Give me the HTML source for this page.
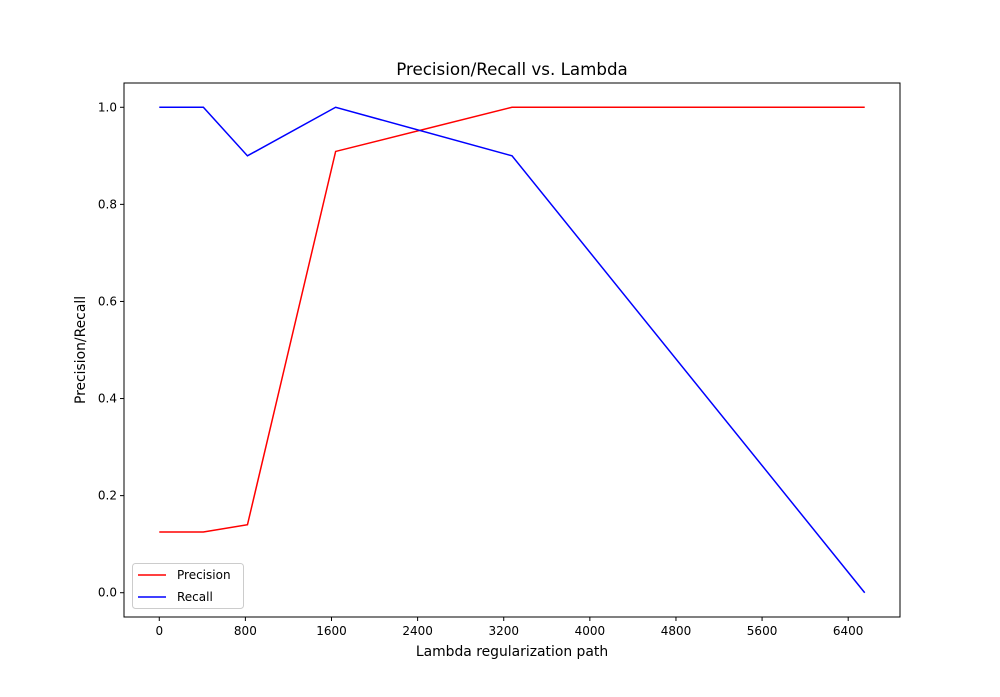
<!DOCTYPE html>
<html><head><meta charset="utf-8"><style>
body{margin:0;background:#fff;font-family:"Liberation Sans","DejaVu Sans",sans-serif}
svg text{font-family:"DejaVu Sans","Liberation Sans",sans-serif}
</style></head><body>
<svg id="chart" width="1000" height="692" xmlns="http://www.w3.org/2000/svg"></svg>
<script>
const xValues=[0,409.6,819.2,1638.4,3276.8,6553.6];
const precision=[0.125,0.125,0.14,0.909,1.0,1.0];
const recall=[1.0,1.0,0.9,1.0,0.9,0.0];
const xTicks=[0,800,1600,2400,3200,4000,4800,5600,6400];
const yTicks=[0.0,0.2,0.4,0.6,0.8,1.0];
const yTickLabels=["0.0","0.2","0.4","0.6","0.8","1.0"];

const L=124,R=900,T=83,B=617;
const xmin=-327.68,xmax=6881.28,ymin=-0.05,ymax=1.05;
const sx=v=>L+(v-xmin)/(xmax-xmin)*(R-L);
const sy=v=>B-(v-ymin)/(ymax-ymin)*(B-T);
const svg=document.getElementById('chart');
const NS='http://www.w3.org/2000/svg';
function mk(tag,attrs,parent){const e=document.createElementNS(NS,tag);for(const k in attrs)e.setAttribute(k,attrs[k]);(parent||svg).appendChild(e);return e;}

const title=mk('text',{x:512,y:75,'text-anchor':'middle','font-size':16.7,fill:'#000'});
title.textContent='Precision/Recall vs. Lambda';



xTicks.forEach(v=>{
  const x=sx(v);
  const t=mk('line',{x1:x,x2:x,y1:B,y2:B+4,stroke:'#000','stroke-width':1});
  
  
  const l=mk('text',{x:x,y:B+18,'text-anchor':'middle','font-size':12,fill:'#000'});
  l.textContent=String(v);
  
  
});
yTicks.forEach((v,i)=>{
  const y=sy(v);
  const t=mk('line',{x1:L-4,x2:L,y1:y,y2:y,stroke:'#000','stroke-width':1});
  
  
  const l=mk('text',{x:L-7,y:y+4,'text-anchor':'end','font-size':12,fill:'#000'});
  l.textContent=yTickLabels[i];
  
  
});

const xt=mk('text',{x:512,y:656,'text-anchor':'middle','font-size':13.9,fill:'#000'});
xt.textContent='Lambda regularization path';


const yt=mk('text',{x:0,y:0,'text-anchor':'middle','font-size':13.9,fill:'#000',transform:'translate(85,350) rotate(-90)'});
yt.textContent='Precision/Recall';



function series(vals,color,name){
  const pts=xValues.map((x,i)=>sx(x)+','+sy(vals[i])).join(' ');
  const p=mk('polyline',{points:pts,fill:'none',stroke:color,'stroke-width':1.5});
  
  
}
series(precision,'#ff0000','precision-line');
series(recall,'#0000ff','recall-line');

const frame=mk('rect',{x:L,y:T,width:R-L,height:B-T,fill:'none',stroke:'#000','stroke-width':1});



const lg=mk('g',{});


mk('rect',{x:132.5,y:563.5,width:111,height:45,rx:3,fill:'#fff',stroke:'#ccc','stroke-width':1},lg);
[['Precision','#ff0000',575],['Recall','#0000ff',597]].forEach(([n,c,y])=>{
  const g=mk('g',{},lg);
  
  
  mk('line',{x1:138,x2:166,y1:y,y2:y,stroke:c,'stroke-width':1.5},g);
  const t=mk('text',{x:177,y:y+4,'font-size':12,fill:'#000'},g);
  t.textContent=n;
});
</script>
</body></html>
